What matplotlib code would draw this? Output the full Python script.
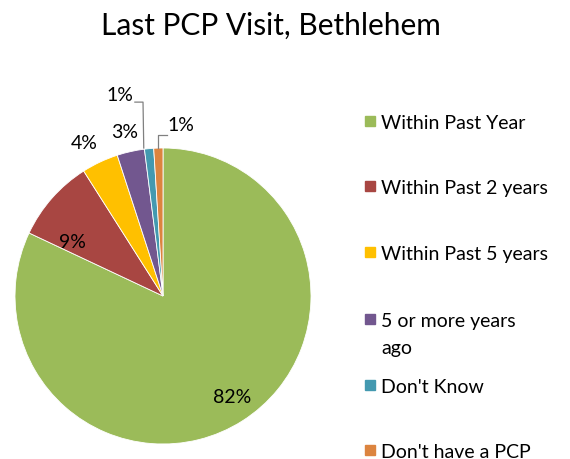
import numpy as np
import matplotlib
matplotlib.use("Agg")
import matplotlib.pyplot as plt
from matplotlib.patches import Rectangle

plt.rcParams["font.family"] = ["Lato", "DejaVu Sans"]

# data
categories = ["Within Past Year", "Within Past 2 years", "Within Past 5 years",
              "5 or more years\nago", "Don't Know", "Don't have a PCP"]
shares = [82, 9, 4, 3, 1, 1]
colors = ["#9BBB59", "#A84642", "#FFC000", "#72578F", "#4399B0", "#DC843F"]

W, H = 570, 460
fig = plt.figure(figsize=(W / 100, H / 100), dpi=100)
fig.patch.set_facecolor("white")

# pie centre ~(163, 297) px, radius ~148 px
cx, cy, r = 163, 297, 148
ax = fig.add_axes([(cx - r) / W, (H - cy - r) / H, 2 * r / W, 2 * r / H])
wedges, _ = ax.pie(shares, colors=colors, startangle=90, counterclock=False,
                   radius=1, wedgeprops=dict(linewidth=0.6, edgecolor="white"))
ax.set_xlim(-1, 1)
ax.set_ylim(-1, 1)
ax.set_aspect("equal")
ax.axis("off")

# label positions in pie-radius units (spreadsheet "best fit" placement)
label_pos = [(0.47, -0.68), (-0.61, 0.37), (-0.53, 1.04), (-0.26, 1.11),
             (-0.29, 1.36), (0.12, 1.16)]
for s, (lx, ly) in zip(shares, label_pos):
    ax.text(lx, ly, f"{s}%", ha="center", va="center", fontsize=14,
            clip_on=False)

# leader lines for the two 1% slices
leaders = [
    [(-0.19, 1.31), (-0.135, 1.31), (-0.13, 1.0)],
    [(0.03, 1.09), (-0.035, 1.09), (-0.035, 1.0)],
]
for pts in leaders:
    xs, ys = zip(*pts)
    ax.plot(xs, ys, color="#808080", lw=0.9, clip_on=False)

fig.text(271 / W, 1 - 35 / H, "Last PCP Visit, Bethlehem", ha="center",
         va="baseline", fontsize=21.5)

# legend, drawn by hand to mimic the spreadsheet layout (first-line baselines, px)
leg_base = [129, 194, 260, 327, 393, 458]
line_step = 27
for c, lab, yb in zip(colors, categories, leg_base):
    fig.patches.append(Rectangle((365 / W, 1 - (yb - 2) / H), 10 / W, 10 / H,
                                 transform=fig.transFigure, color=c))
    for k, line in enumerate(lab.split("\n")):
        fig.text(381 / W, 1 - (yb + k * line_step) / H, line, ha="left",
                 va="baseline", fontsize=14)

fig.savefig("out.png", dpi=100)
